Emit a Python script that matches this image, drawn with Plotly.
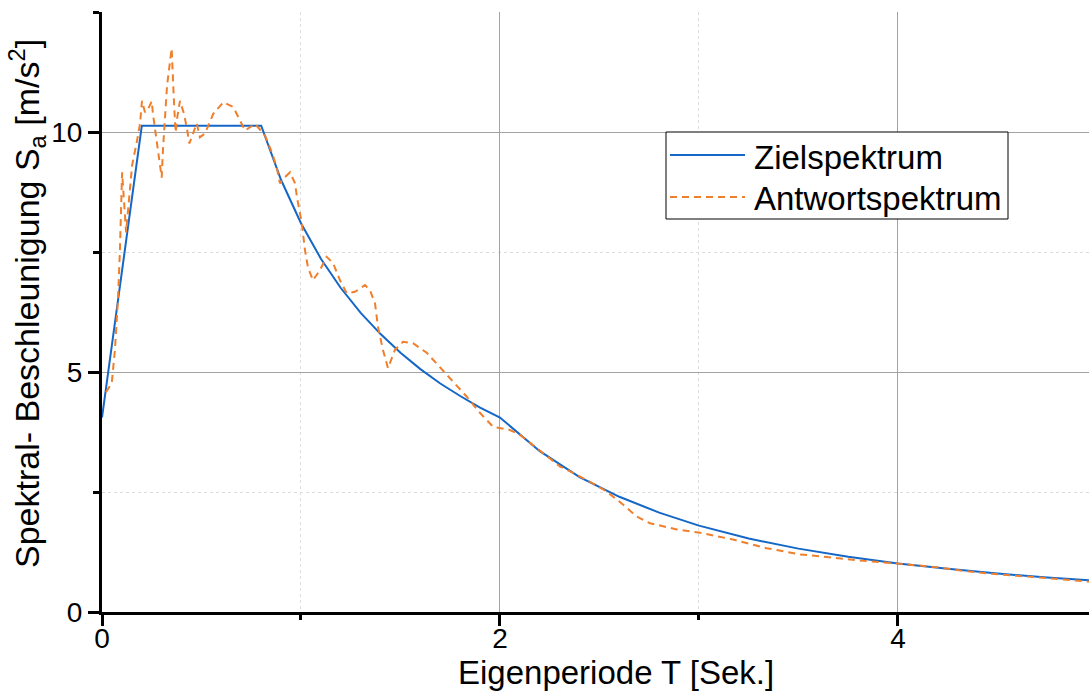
import plotly.graph_objects as go

# Target design spectrum (Zielspektrum)
t_target = [0.0, 0.2, 0.8, 0.9, 1.0, 1.1, 1.2, 1.3, 1.4, 1.5, 1.6, 1.7, 1.8, 1.9, 2.0,
            2.2, 2.4, 2.6, 2.8, 3.0, 3.25, 3.5, 3.75, 4.0, 4.25, 4.5, 4.75, 5.0]
sa_target = [4.05, 10.13, 10.13, 9.00, 8.10, 7.36, 6.75, 6.23, 5.79, 5.40, 5.06, 4.76, 4.50, 4.26, 4.05,
             3.35, 2.81, 2.40, 2.07, 1.80, 1.53, 1.32, 1.15, 1.01, 0.90, 0.80, 0.72, 0.65]

# Response spectrum of the matched record (Antwortspektrum)
t_resp = [0.020, 0.049, 0.065, 0.080, 0.090, 0.095, 0.101, 0.121, 0.151, 0.176, 0.191, 0.201,
          0.216, 0.233, 0.250, 0.256, 0.276, 0.291, 0.300, 0.307, 0.327, 0.350, 0.355, 0.363,
          0.370, 0.378, 0.392, 0.412, 0.426, 0.439, 0.476, 0.492, 0.518, 0.559, 0.610, 0.660,
          0.685, 0.719, 0.769, 0.785, 0.819, 0.853, 0.878, 0.894, 0.920, 0.945, 0.970, 0.980,
          1.004, 1.020, 1.035, 1.060, 1.095, 1.129, 1.161, 1.196, 1.230, 1.271, 1.322, 1.347,
          1.372, 1.387, 1.412, 1.437, 1.472, 1.513, 1.563, 1.632, 1.698, 1.764, 1.832, 1.899,
          1.965, 2.050, 2.101, 2.166, 2.235, 2.302, 2.367, 2.436, 2.536, 2.618, 2.687, 2.754,
          2.888, 3.005, 3.171, 3.340, 3.508, 3.673, 3.843, 3.998, 4.176, 4.345, 4.513, 4.678,
          4.848, 5.000]
sa_resp = [4.58, 4.77, 5.46, 6.49, 7.53, 8.21, 9.16, 7.91, 9.30, 9.82, 10.17, 10.65,
           10.41, 10.49, 10.64, 10.38, 9.76, 9.41, 9.05, 9.68, 10.97, 11.74, 11.18, 10.51,
           9.99, 10.30, 10.65, 10.38, 10.09, 9.76, 10.18, 9.89, 9.97, 10.38, 10.62, 10.52,
           10.31, 10.03, 10.17, 10.10, 9.93, 9.58, 9.27, 8.93, 9.06, 9.16, 8.93, 8.64,
           8.10, 7.54, 7.18, 6.91, 7.12, 7.40, 7.27, 6.91, 6.64, 6.67, 6.81, 6.70,
           6.43, 5.94, 5.46, 5.08, 5.46, 5.63, 5.60, 5.40, 5.11, 4.80, 4.49, 4.15,
           3.86, 3.79, 3.69, 3.48, 3.24, 3.03, 2.90, 2.75, 2.51, 2.24, 1.99, 1.85,
           1.72, 1.65, 1.51, 1.33, 1.20, 1.13, 1.06, 1.01, 0.94, 0.85, 0.78, 0.73,
           0.68, 0.62]

series_names = ["Zielspektrum", "Antwortspektrum"]
x_title = "Eigenperiode T [Sek.]"
y_title = "Spektral- Beschleunigung S<sub>a</sub> [m/s<sup>2</sup>]"

FONT = "Liberation Sans, Arial, sans-serif"
BLUE = "#1467c6"
ORANGE = "#f07f2c"
ORANGE_DASH = "7px,5px"

fig = go.Figure()
fig.add_trace(go.Scatter(x=t_target, y=sa_target, mode="lines", name=series_names[0],
                         line=dict(color=BLUE, width=2)))
fig.add_trace(go.Scatter(x=t_resp, y=sa_resp, mode="lines", name=series_names[1],
                         line=dict(color=ORANGE, width=2, dash=ORANGE_DASH)))

axis_common = dict(
    showline=True, linecolor="black", linewidth=3, mirror=False,
    ticks="outside", tickwidth=3, tickcolor="black", ticklen=11,
    showgrid=True, gridcolor="#a3a3a3", gridwidth=1, zeroline=False,
    tickfont=dict(family=FONT, size=28, color="black"),
)

fig.update_xaxes(
    **axis_common, range=[0, 4.96], tick0=0, dtick=2, ticklabelstandoff=-12,
    minor=dict(dtick=1, ticks="outside", ticklen=5, tickwidth=3, tickcolor="black",
               showgrid=True, gridcolor="#dddddd", gridwidth=1, griddash="3px,3px"),
)
fig.update_yaxes(
    **axis_common, range=[0, 12.5], tick0=0, dtick=5,
    minor=dict(dtick=2.5, ticks="outside", ticklen=6, tickwidth=3, tickcolor="black",
               showgrid=True, gridcolor="#dddddd", gridwidth=1, griddash="3px,3px"),
)

# plot area in pixels: x 102..1089, y 12..612
def px(xp):
    return (xp - 102) / 987.0

def py(yp):
    return (612 - yp) / 600.0

annotations = [
    dict(text=x_title, xref="paper", yref="paper", x=px(616), y=py(652),
         xanchor="center", yanchor="top", showarrow=False,
         font=dict(family=FONT, size=33, color="black")),
    dict(text=y_title, xref="paper", yref="paper", x=px(27), y=py(304),
         xanchor="center", yanchor="middle", textangle=-90, showarrow=False,
         font=dict(family=FONT, size=34, color="black")),
    dict(text=series_names[0], xref="paper", yref="paper", x=px(752), y=py(157),
         xanchor="left", yanchor="middle", showarrow=False,
         font=dict(family=FONT, size=33, color="black")),
    dict(text=series_names[1], xref="paper", yref="paper", x=px(752), y=py(198),
         xanchor="left", yanchor="middle", showarrow=False,
         font=dict(family=FONT, size=33, color="black")),
]

shapes = [
    # legend frame
    dict(type="rect", xref="paper", yref="paper", x0=px(666), x1=px(1008), y0=py(219), y1=py(132),
         line=dict(color="black", width=1), fillcolor="white", layer="above"),
    # legend samples
    dict(type="line", xref="paper", yref="paper", x0=px(670), x1=px(745), y0=py(155), y1=py(155),
         line=dict(color=BLUE, width=2), layer="above"),
    dict(type="line", xref="paper", yref="paper", x0=px(670), x1=px(745), y0=py(197), y1=py(197),
         line=dict(color=ORANGE, width=2, dash=ORANGE_DASH), layer="above"),
]

fig.update_layout(
    width=1089, height=691,
    margin=dict(l=102, r=0, t=12, b=79),
    plot_bgcolor="white", paper_bgcolor="white",
    font=dict(family=FONT, color="black"),
    showlegend=False,
    annotations=annotations,
    shapes=shapes,
)

fig.write_html("out.html")
